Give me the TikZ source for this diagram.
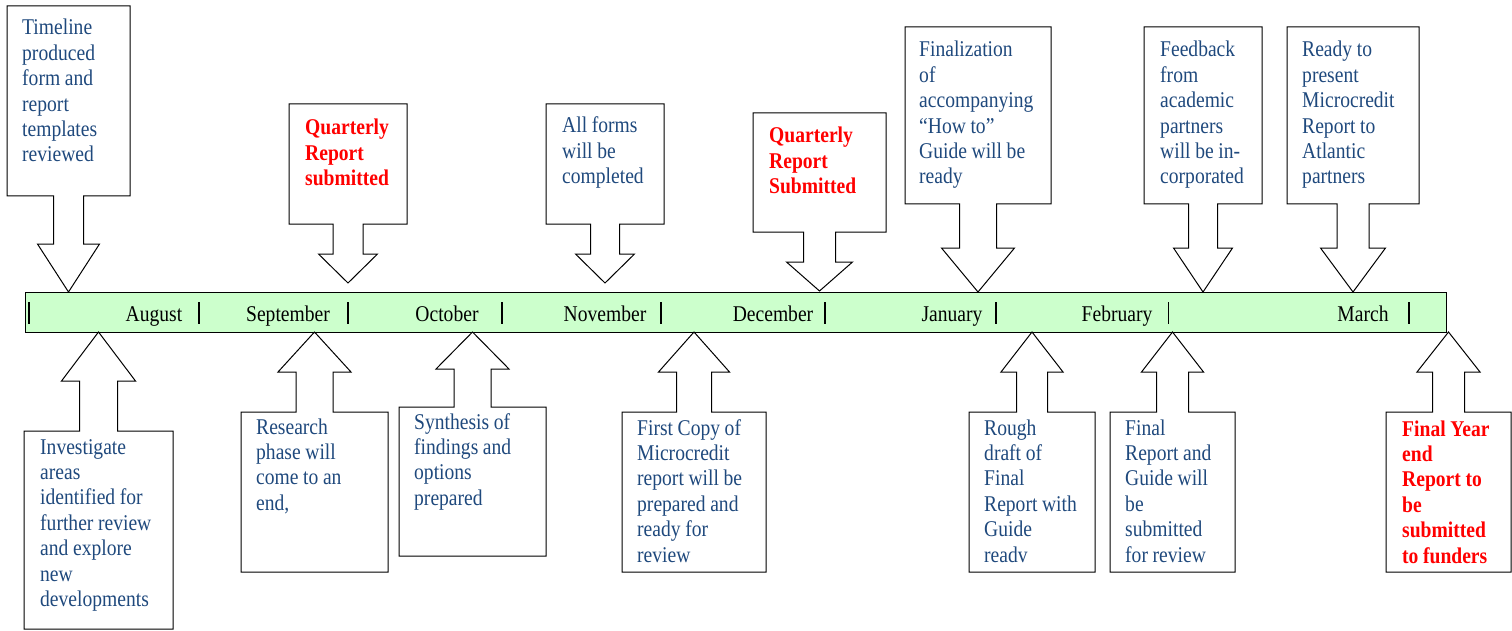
\documentclass[tikz,border=0pt]{standalone}
\usepackage{fontspec}
\setmainfont[FakeStretch=0.87]{Liberation Serif}

\definecolor{notetext}{RGB}{31,73,125}
\definecolor{barfill}{RGB}{204,255,204}

% box from x=#1 to #2, far edge #3, arrow edge #4,
% half shaft #5, half head #6, head base #7, tip #8
\newcommand{\tlcallout}[8]{%
  \draw[callout] (#1,#3) -- (#2,#3) -- (#2,#4)
    -- ({(#1+#2)/2+#5},#4) -- ({(#1+#2)/2+#5},#7) -- ({(#1+#2)/2+#6},#7)
    -- ({(#1+#2)/2},#8)
    -- ({(#1+#2)/2-#6},#7) -- ({(#1+#2)/2-#5},#7) -- ({(#1+#2)/2-#5},#4)
    -- (#1,#4) -- cycle;}

\begin{document}
\begin{tikzpicture}[
    x=1pt, y=-1pt,
    callout/.style={draw=black, line width=1pt, fill=white},
    note/.style={
        anchor=base west, text width=150pt, align=left, inner sep=0pt,
        text=notetext, font=\fontsize{22.5}{25.4}\selectfont,
        execute at begin node={\spaceskip=4.6pt plus 1pt\relax}
    },
    rednote/.style={note, text=red, font=\fontsize{22.5}{25.4}\selectfont\bfseries},
    month/.style={anchor=base, inner sep=0pt, font=\fontsize{22.5}{25.4}\selectfont},
    tick/.style={line width=1.6pt},
]
\useasboundingbox (0,0) rectangle (1512,631);

% timeline bar
\node [draw, line width=1pt, fill=barfill, anchor=north west, inner sep=0pt,
       minimum width=1421pt, minimum height=40pt] (bar) at (25,292) {};

\draw[tick] (29,302) -- (29,324);
\draw[tick] (199,302) -- (199,324);
\draw[tick] (348,302) -- (348,324);
\draw[tick] (502,302) -- (502,324);
\draw[tick] (661,302) -- (661,324);
\draw[tick] (825,302) -- (825,324);
\draw[tick] (996,302) -- (996,324);
\draw[tick, line width=1pt] (1168,302) -- (1168,324);
\draw[tick] (1409,302) -- (1409,324);

\node [month] (aug) at (154,321) {August};
\node [month] (sep) at (288,321) {September};
\node [month] (oct) at (447,321) {October};
\node [month] (nov) at (605,321) {November};
\node [month] (dec) at (773,321) {December};
\node [month] (jan) at (952,321) {January};
\node [month] (feb) at (1117,321) {February};
\node [month] (mar) at (1363,321) {March};

% callouts above the bar
\tlcallout{7}{130}{6}{196}{15}{31}{244}{292}
\tlcallout{289}{407}{104}{224}{15}{29.5}{254}{283}
\tlcallout{546}{664}{104}{224}{14.5}{29.5}{254}{283}
\tlcallout{753}{886}{113}{232}{16}{33}{262}{291}
\tlcallout{905}{1051}{27}{204}{18.5}{36.5}{248}{292}
\tlcallout{1144}{1262}{27}{204}{14.5}{29.5}{248}{292}
\tlcallout{1287}{1419}{27}{204}{16}{32.5}{248}{292}

\node [note] (timeline) at (22,35) {Timeline\\produced\\form and\\report\\templates\\reviewed};
\node [rednote] (quarter1) at (305,135) {Quarterly\\Report\\submitted};
\node [note] (forms) at (562,133) {All forms\\will be\\completed};
\node [rednote] (quarter2) at (769,143) {Quarterly\\Report\\Submitted};
\node [note] (finalize) at (919,57) {Finalization\\of\\accompanying\\``How to''\\Guide will be\\ready};
\node [note] (feedback) at (1160,57) {Feedback\\from\\academic\\partners\\will be in-\\corporated};
\node [note] (present) at (1302,57) {Ready to\\present\\Microcredit\\Report to\\Atlantic\\partners};

% callouts below the bar
\tlcallout{24}{173}{629}{431}{19}{37}{381}{332}
\tlcallout{241}{388}{572}{412}{18.5}{36.5}{372}{332}
\tlcallout{399}{546}{556}{407}{18.5}{36.5}{369}{332}
\tlcallout{622}{766}{572}{412}{17.5}{35.5}{372}{332}
\tlcallout{969}{1095}{572}{412}{15.5}{31}{372}{332}
\tlcallout{1110}{1235}{572}{412}{16}{31}{372}{332}
\tlcallout{1386}{1511}{572}{412}{16}{31.5}{372}{332}

\node [note] (investigate) at (40,454) {Investigate\\areas\\identified for\\further review\\and explore\\new\\developments};
\node [note] (research) at (256,434) {Research\\phase will\\come to an\\end,};
\node [note] (synthesis) at (414,429) {Synthesis of\\findings and\\options\\prepared};
\node [note] (firstcopy) at (637,435) {First Copy of\\Microcredit\\report will be\\prepared and\\ready for\\review};
\node [note] (roughdraft) at (984,435) {Rough\\draft of\\Final\\Report with\\Guide\\readv};
\node [note] (finalreport) at (1125,435) {Final\\Report and\\Guide will\\be\\submitted\\for review};
\node [rednote] (yearend) at (1402,436) {Final Year\\end\\Report to\\be\\submitted\\to funders};

\end{tikzpicture}
\end{document}
